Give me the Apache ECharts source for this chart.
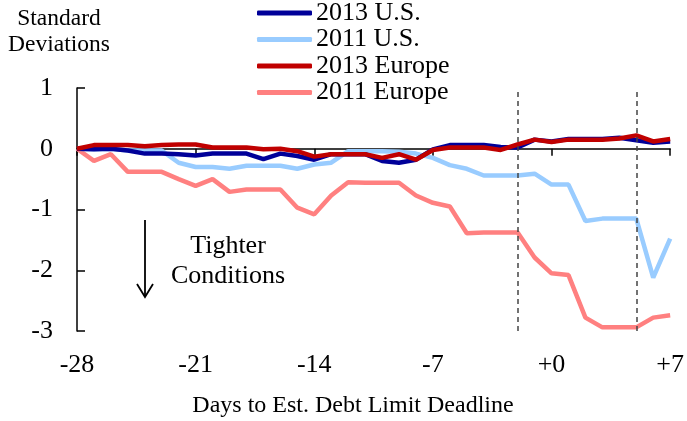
<!DOCTYPE html>
<html><head><meta charset="utf-8">
<script src="https://cdn.jsdelivr.net/npm/echarts@6/dist/echarts.min.js"></script>
<style>html,body{margin:0;padding:0;background:#fff}#c{width:687px;height:421px}</style>
</head><body><div id="c"></div>
<script>
const days = [-28,-27,-26,-25,-24,-23,-22,-21,-20,-19,-18,-17,-16,-15,-14,-13,-12,-11,-10,-9,-8,-7,-6,-5,-4,-3,-2,-1,0,1,2,3,4,5,6,7];
const us2013 = [0,-0.01,0,-0.03,-0.08,-0.08,-0.09,-0.11,-0.08,-0.08,-0.08,-0.17,-0.08,-0.12,-0.18,-0.09,-0.09,-0.09,-0.2,-0.23,-0.18,-0.01,0.06,0.06,0.06,0.03,0.02,0.15,0.12,0.16,0.16,0.16,0.18,0.14,0.1,0.12];
const us2011 = [0,-0.01,0,-0.03,-0.03,-0.03,-0.23,-0.3,-0.3,-0.33,-0.28,-0.28,-0.28,-0.33,-0.26,-0.23,-0.04,-0.04,-0.04,-0.05,-0.08,-0.15,-0.27,-0.33,-0.44,-0.44,-0.44,-0.41,-0.59,-0.59,-1.19,-1.15,-1.15,-1.15,-2.12,-1.48];
const eu2013 = [0,0.06,0.06,0.06,0.04,0.06,0.07,0.07,0.02,0.02,0.02,-0.01,0,-0.04,-0.13,-0.09,-0.09,-0.09,-0.15,-0.09,-0.18,-0.02,0.02,0.02,0.02,-0.02,0.07,0.15,0.11,0.15,0.15,0.15,0.17,0.22,0.12,0.16];
const eu2011 = [0,-0.2,-0.09,-0.38,-0.38,-0.38,-0.5,-0.61,-0.5,-0.71,-0.67,-0.67,-0.67,-0.97,-1.08,-0.77,-0.55,-0.56,-0.56,-0.56,-0.77,-0.89,-0.95,-1.39,-1.38,-1.38,-1.38,-1.79,-2.05,-2.08,-2.78,-2.94,-2.94,-2.94,-2.78,-2.74];
const xTicks = {'-28':'-28','-21':'-21','-14':'-14','-7':'-7','0':'+0','7':'+7'};
const deadlines = [-2, 5];
const names = ['2013 U.S.','2011 U.S.','2013 Europe','2011 Europe'];

const F = '"Liberation Serif","Times New Roman",serif';
const pair = a => days.map((d,i)=>[d,a[i]]);
const chart = echarts.init(document.getElementById('c'));
function line(name, data, color, extra){
  return Object.assign({name, type:'line', data:pair(data), xAxisIndex:0, symbol:'none', showSymbol:false,
    lineStyle:{color, width:4.5}, itemStyle:{color}, animation:false}, extra||{});
}
chart.setOption({
  animation:false,
  textStyle:{fontFamily:F},
  grid:{left:77, right:13, top:88, bottom:90},
  legend:{data:names, orient:'vertical', left:252, top:-5, itemWidth:55, itemHeight:5, itemGap:0.5,
    icon:'roundRect',
    textStyle:{fontFamily:F, fontSize:26, color:'#000', lineHeight:26, padding:[0,0,0,-1]}},
  xAxis:[
    {type:'value', min:-28, max:7, interval:7, axisLine:{onZero:true, lineStyle:{color:'#000', width:1.5}},
     axisTick:{show:true, inside:false, length:7, lineStyle:{color:'#000', width:1.5}},
     axisLabel:{show:false}, splitLine:{show:false}},
    {type:'value', min:-28, max:7, interval:7, position:'bottom', offset:0,
     axisLine:{show:false, onZero:false}, axisTick:{show:false}, splitLine:{show:false},
     axisLabel:{fontFamily:F, fontSize:26, color:'#000', margin:21, formatter:v=>xTicks[String(v)]||''}}
  ],
  yAxis:{type:'value', min:-3, max:1, interval:1,
    axisLine:{show:true, onZero:false, lineStyle:{color:'#000', width:1.5}},
    axisTick:{show:true, inside:true, length:8, lineStyle:{color:'#000', width:1.5}},
    axisLabel:{fontFamily:F, fontSize:26, color:'#000', margin:24},
    splitLine:{show:false}},
  graphic:[
    {type:'text', style:{text:'Standard\nDeviations', x:59, y:6, textAlign:'center', font:'23.5px '+F, fill:'#000', lineHeight:26}},
    {type:'text', style:{text:'Days to Est. Debt Limit Deadline', x:353, y:394, textAlign:'center', font:'24px '+F, fill:'#000'}},
    {type:'text', style:{text:'Tighter\nConditions', x:228, y:231, textAlign:'center', font:'26px '+F, fill:'#000', lineHeight:30}},
    {type:'line', shape:{x1:145, y1:220, x2:145, y2:297}, style:{stroke:'#000', lineWidth:1.8}},
    {type:'polyline', shape:{points:[[137,284],[145,297],[153,284]]}, style:{stroke:'#000', lineWidth:1.8, fill:null}}
  ],
  series:[
    line(names[3], eu2011, '#FF8080'),
    line(names[1], us2011, '#99CCFF'),
    line(names[0], us2013, '#000099'),
    line(names[2], eu2013, '#C00000', {markLine:{silent:true, symbol:'none', label:{show:false},
      lineStyle:{color:'#444', type:[5,4], width:1.5}, data:deadlines.map(d=>({xAxis:d}))}})
  ]
});
</script></body></html>
